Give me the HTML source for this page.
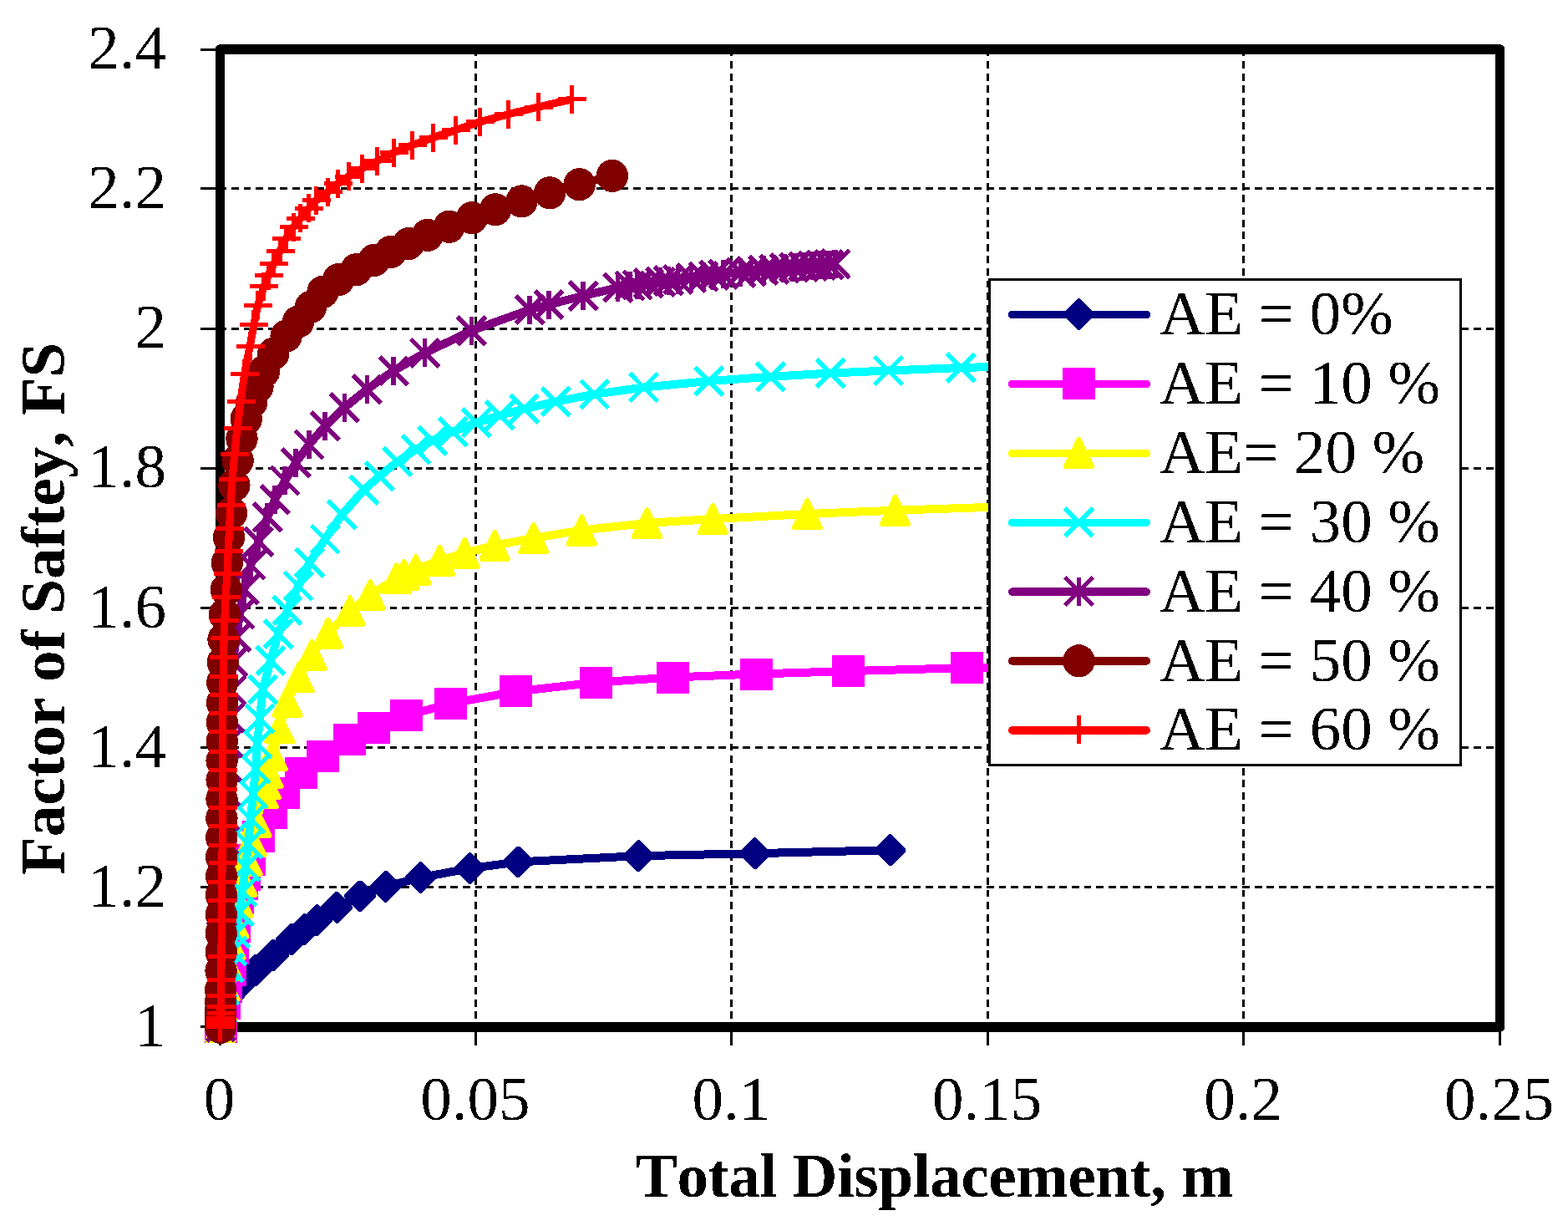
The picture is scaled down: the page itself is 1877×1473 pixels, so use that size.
<!DOCTYPE html>
<html lang="en"><head><meta charset="utf-8"><title>Factor of Safety vs Total Displacement</title>
<style>html,body{margin:0;padding:0;background:#fff}svg{display:block}text{font-family:"Liberation Serif",serif;font-size:75px;fill:#000;font-kerning:none;font-variant-ligatures:none}.b{font-weight:bold}</style></head><body>
<svg width="1877" height="1473" viewBox="0 0 1877 1473" role="img" aria-label="Factor of Safety versus Total Displacement chart">
<rect x="0" y="0" width="1877" height="1473" fill="#fff"/>
<defs><filter id="hard" filterUnits="userSpaceOnUse" x="0" y="0" width="1877" height="1473" color-interpolation-filters="sRGB"><feComponentTransfer><feFuncA type="discrete" tableValues="0 1"/></feComponentTransfer></filter></defs>
<g stroke="#000" stroke-width="3" stroke-dasharray="8.9 5.68" fill="none" shape-rendering="crispEdges">
<path d="M569.5 58.5V1229"/>
<path d="M875.5 58.5V1229"/>
<path d="M1182.5 58.5V1229"/>
<path d="M1488.5 58.5V1229"/>
<path d="M262.4 225.5H1795.5"/>
<path d="M262.4 393.5H1795.5"/>
<path d="M262.4 560.5H1795.5"/>
<path d="M262.4 727.5H1795.5"/>
<path d="M262.4 894.5H1795.5"/>
<path d="M262.4 1061.5H1795.5"/>
</g>
<g stroke="#000" stroke-width="3" fill="none" shape-rendering="crispEdges">
<path d="M240 59.5H259"/>
<path d="M240 225.5H259"/>
<path d="M240 393.5H259"/>
<path d="M240 560.5H259"/>
<path d="M240 727.5H259"/>
<path d="M240 894.5H259"/>
<path d="M240 1061.5H259"/>
<path d="M240 1228.5H259"/>
<path d="M263.5 1234V1251"/>
<path d="M569.5 1234V1251"/>
<path d="M875.5 1234V1251"/>
<path d="M1182.5 1234V1251"/>
<path d="M1488.5 1234V1251"/>
<path d="M1795.5 1234V1251"/>
</g>
<rect x="263.5" y="59" width="1532" height="1170" fill="none" stroke="#000" stroke-width="11.5" stroke-linejoin="round" shape-rendering="crispEdges"/>
<g shape-rendering="crispEdges" stroke-linecap="butt">
<path d="M264 1229L264 1216L266 1203L274 1192L283 1182L292.7 1172.5L306.5 1160.7L327.1 1143.2L349 1124L364.2 1112.2L379.3 1101.2L403.2 1085.7L431 1072.3L461.7 1061L503.6 1050.1L562.5 1039.1L620.2 1031.4L764.4 1024.2L903.7 1021.2L1065.6 1017.2" stroke="#000080" stroke-width="10" fill="none" stroke-linejoin="round"/>
<path d="M262.5 1210.2L265.5 1210.2L282.8 1227.5L282.8 1230.5L265.5 1247.8L262.5 1247.8L245.2 1230.5L245.2 1227.5Z" fill="#000080"/>
<path d="M262.5 1197.2L265.5 1197.2L282.8 1214.5L282.8 1217.5L265.5 1234.8L262.5 1234.8L245.2 1217.5L245.2 1214.5Z" fill="#000080"/>
<path d="M264.5 1184.2L267.5 1184.2L284.8 1201.5L284.8 1204.5L267.5 1221.8L264.5 1221.8L247.2 1204.5L247.2 1201.5Z" fill="#000080"/>
<path d="M272.5 1173.2L275.5 1173.2L292.8 1190.5L292.8 1193.5L275.5 1210.8L272.5 1210.8L255.2 1193.5L255.2 1190.5Z" fill="#000080"/>
<path d="M281.5 1163.2L284.5 1163.2L301.8 1180.5L301.8 1183.5L284.5 1200.8L281.5 1200.8L264.2 1183.5L264.2 1180.5Z" fill="#000080"/>
<path d="M291.2 1153.7L294.2 1153.7L311.5 1171L311.5 1174L294.2 1191.3L291.2 1191.3L273.9 1174L273.9 1171Z" fill="#000080"/>
<path d="M305 1141.9L308 1141.9L325.3 1159.2L325.3 1162.2L308 1179.5L305 1179.5L287.7 1162.2L287.7 1159.2Z" fill="#000080"/>
<path d="M325.6 1124.4L328.6 1124.4L345.9 1141.7L345.9 1144.7L328.6 1162L325.6 1162L308.3 1144.7L308.3 1141.7Z" fill="#000080"/>
<path d="M347.5 1105.2L350.5 1105.2L367.8 1122.5L367.8 1125.5L350.5 1142.8L347.5 1142.8L330.2 1125.5L330.2 1122.5Z" fill="#000080"/>
<path d="M362.7 1093.4L365.7 1093.4L383 1110.7L383 1113.7L365.7 1131L362.7 1131L345.4 1113.7L345.4 1110.7Z" fill="#000080"/>
<path d="M377.8 1082.4L380.8 1082.4L398.1 1099.7L398.1 1102.7L380.8 1120L377.8 1120L360.5 1102.7L360.5 1099.7Z" fill="#000080"/>
<path d="M401.7 1066.9L404.7 1066.9L422 1084.2L422 1087.2L404.7 1104.5L401.7 1104.5L384.4 1087.2L384.4 1084.2Z" fill="#000080"/>
<path d="M429.5 1053.5L432.5 1053.5L449.8 1070.8L449.8 1073.8L432.5 1091.1L429.5 1091.1L412.2 1073.8L412.2 1070.8Z" fill="#000080"/>
<path d="M460.2 1042.2L463.2 1042.2L480.5 1059.5L480.5 1062.5L463.2 1079.8L460.2 1079.8L442.9 1062.5L442.9 1059.5Z" fill="#000080"/>
<path d="M502.1 1031.3L505.1 1031.3L522.4 1048.6L522.4 1051.6L505.1 1068.9L502.1 1068.9L484.8 1051.6L484.8 1048.6Z" fill="#000080"/>
<path d="M561 1020.3L564 1020.3L581.3 1037.6L581.3 1040.6L564 1057.9L561 1057.9L543.7 1040.6L543.7 1037.6Z" fill="#000080"/>
<path d="M618.7 1012.6L621.7 1012.6L639 1029.9L639 1032.9L621.7 1050.2L618.7 1050.2L601.4 1032.9L601.4 1029.9Z" fill="#000080"/>
<path d="M762.9 1005.4L765.9 1005.4L783.2 1022.7L783.2 1025.7L765.9 1043L762.9 1043L745.6 1025.7L745.6 1022.7Z" fill="#000080"/>
<path d="M902.2 1002.4L905.2 1002.4L922.5 1019.7L922.5 1022.7L905.2 1040L902.2 1040L884.9 1022.7L884.9 1019.7Z" fill="#000080"/>
<path d="M1064.1 998.4L1067.1 998.4L1084.4 1015.7L1084.4 1018.7L1067.1 1036L1064.1 1036L1046.8 1018.7L1046.8 1015.7Z" fill="#000080"/>
<path d="M264 1229L268 1200.6L270.9 1180.7L275.2 1160.7L278 1135L280.9 1108.7L284.9 1075.2L289.2 1058.1L292.3 1046.7L298 1029.2L309 1000.8L324.3 972.7L339.1 949L360.2 924.5L386 904.6L418.7 885.3L447.1 871.1L486.3 856.4L539.6 841.8L617.9 827.4L713.2 816.6L805.5 810.5L905.4 806.5L1015.4 803.1L1157.6 799.1L1300 796" stroke="#FF00FF" stroke-width="10" fill="none" stroke-linejoin="round"/>
<rect x="244.5" y="1210" width="39" height="38" fill="#FF00FF"/>
<rect x="248.5" y="1181.6" width="39" height="38" fill="#FF00FF"/>
<rect x="251.4" y="1161.7" width="39" height="38" fill="#FF00FF"/>
<rect x="255.7" y="1141.7" width="39" height="38" fill="#FF00FF"/>
<rect x="258.5" y="1116" width="39" height="38" fill="#FF00FF"/>
<rect x="261.4" y="1089.7" width="39" height="38" fill="#FF00FF"/>
<rect x="265.4" y="1056.2" width="39" height="38" fill="#FF00FF"/>
<rect x="269.7" y="1039.1" width="39" height="38" fill="#FF00FF"/>
<rect x="272.8" y="1027.7" width="39" height="38" fill="#FF00FF"/>
<rect x="278.5" y="1010.2" width="39" height="38" fill="#FF00FF"/>
<rect x="289.5" y="981.8" width="39" height="38" fill="#FF00FF"/>
<rect x="304.8" y="953.7" width="39" height="38" fill="#FF00FF"/>
<rect x="319.6" y="930" width="39" height="38" fill="#FF00FF"/>
<rect x="340.7" y="905.5" width="39" height="38" fill="#FF00FF"/>
<rect x="366.5" y="885.6" width="39" height="38" fill="#FF00FF"/>
<rect x="399.2" y="866.3" width="39" height="38" fill="#FF00FF"/>
<rect x="427.6" y="852.1" width="39" height="38" fill="#FF00FF"/>
<rect x="466.8" y="837.4" width="39" height="38" fill="#FF00FF"/>
<rect x="520.1" y="822.8" width="39" height="38" fill="#FF00FF"/>
<rect x="598.4" y="808.4" width="39" height="38" fill="#FF00FF"/>
<rect x="693.7" y="797.6" width="39" height="38" fill="#FF00FF"/>
<rect x="786" y="791.5" width="39" height="38" fill="#FF00FF"/>
<rect x="885.9" y="787.5" width="39" height="38" fill="#FF00FF"/>
<rect x="995.9" y="784.1" width="39" height="38" fill="#FF00FF"/>
<rect x="1138.1" y="780.1" width="39" height="38" fill="#FF00FF"/>
<path d="M264 1229L266 1205L269 1180L272 1155L276 1130L280 1105L285 1080L290 1055L296 1030L301 1007L307 984L315.2 949L318.4 938.3L321.2 924.8L326.2 904.1L334.8 871.3L343.9 839.7L358 810.4L373.2 783.8L392.6 757.7L419 731L443.3 711.9L474.4 692.4L483.7 687.9L497.9 681.8L526.4 670.6L556.2 661.8L592.2 652.7L638.8 643.9L696.3 634.5L774.6 625.9L853.2 621.1L966.4 615L1071.6 610.7L1300 603" stroke="#FFFF00" stroke-width="10" fill="none" stroke-linejoin="round"/>
<path d="M264 1212.8L279.8 1245.2L248.2 1245.2Z" fill="#FFFF00" stroke="#FFFF00" stroke-width="5.6" stroke-linejoin="round"/>
<path d="M266 1188.8L281.8 1221.2L250.2 1221.2Z" fill="#FFFF00" stroke="#FFFF00" stroke-width="5.6" stroke-linejoin="round"/>
<path d="M269 1163.8L284.8 1196.2L253.2 1196.2Z" fill="#FFFF00" stroke="#FFFF00" stroke-width="5.6" stroke-linejoin="round"/>
<path d="M272 1138.8L287.8 1171.2L256.2 1171.2Z" fill="#FFFF00" stroke="#FFFF00" stroke-width="5.6" stroke-linejoin="round"/>
<path d="M276 1113.8L291.8 1146.2L260.2 1146.2Z" fill="#FFFF00" stroke="#FFFF00" stroke-width="5.6" stroke-linejoin="round"/>
<path d="M280 1088.8L295.8 1121.2L264.2 1121.2Z" fill="#FFFF00" stroke="#FFFF00" stroke-width="5.6" stroke-linejoin="round"/>
<path d="M285 1063.8L300.8 1096.2L269.2 1096.2Z" fill="#FFFF00" stroke="#FFFF00" stroke-width="5.6" stroke-linejoin="round"/>
<path d="M290 1038.8L305.8 1071.2L274.2 1071.2Z" fill="#FFFF00" stroke="#FFFF00" stroke-width="5.6" stroke-linejoin="round"/>
<path d="M296 1013.8L311.8 1046.2L280.2 1046.2Z" fill="#FFFF00" stroke="#FFFF00" stroke-width="5.6" stroke-linejoin="round"/>
<path d="M301 990.8L316.8 1023.2L285.2 1023.2Z" fill="#FFFF00" stroke="#FFFF00" stroke-width="5.6" stroke-linejoin="round"/>
<path d="M307 967.8L322.8 1000.2L291.2 1000.2Z" fill="#FFFF00" stroke="#FFFF00" stroke-width="5.6" stroke-linejoin="round"/>
<path d="M315.2 932.8L331 965.2L299.4 965.2Z" fill="#FFFF00" stroke="#FFFF00" stroke-width="5.6" stroke-linejoin="round"/>
<path d="M318.4 922.1L334.2 954.5L302.6 954.5Z" fill="#FFFF00" stroke="#FFFF00" stroke-width="5.6" stroke-linejoin="round"/>
<path d="M321.2 908.6L337 941L305.4 941Z" fill="#FFFF00" stroke="#FFFF00" stroke-width="5.6" stroke-linejoin="round"/>
<path d="M326.2 887.9L342 920.3L310.4 920.3Z" fill="#FFFF00" stroke="#FFFF00" stroke-width="5.6" stroke-linejoin="round"/>
<path d="M334.8 855.1L350.6 887.5L319 887.5Z" fill="#FFFF00" stroke="#FFFF00" stroke-width="5.6" stroke-linejoin="round"/>
<path d="M343.9 823.5L359.7 855.9L328.1 855.9Z" fill="#FFFF00" stroke="#FFFF00" stroke-width="5.6" stroke-linejoin="round"/>
<path d="M358 794.2L373.8 826.6L342.2 826.6Z" fill="#FFFF00" stroke="#FFFF00" stroke-width="5.6" stroke-linejoin="round"/>
<path d="M373.2 767.6L389 800L357.4 800Z" fill="#FFFF00" stroke="#FFFF00" stroke-width="5.6" stroke-linejoin="round"/>
<path d="M392.6 741.5L408.4 773.9L376.8 773.9Z" fill="#FFFF00" stroke="#FFFF00" stroke-width="5.6" stroke-linejoin="round"/>
<path d="M419 714.8L434.8 747.2L403.2 747.2Z" fill="#FFFF00" stroke="#FFFF00" stroke-width="5.6" stroke-linejoin="round"/>
<path d="M443.3 695.7L459.1 728.1L427.5 728.1Z" fill="#FFFF00" stroke="#FFFF00" stroke-width="5.6" stroke-linejoin="round"/>
<path d="M474.4 676.2L490.2 708.6L458.6 708.6Z" fill="#FFFF00" stroke="#FFFF00" stroke-width="5.6" stroke-linejoin="round"/>
<path d="M483.7 671.7L499.5 704.1L467.9 704.1Z" fill="#FFFF00" stroke="#FFFF00" stroke-width="5.6" stroke-linejoin="round"/>
<path d="M497.9 665.6L513.7 698L482.1 698Z" fill="#FFFF00" stroke="#FFFF00" stroke-width="5.6" stroke-linejoin="round"/>
<path d="M526.4 654.4L542.2 686.8L510.6 686.8Z" fill="#FFFF00" stroke="#FFFF00" stroke-width="5.6" stroke-linejoin="round"/>
<path d="M556.2 645.6L572 678L540.4 678Z" fill="#FFFF00" stroke="#FFFF00" stroke-width="5.6" stroke-linejoin="round"/>
<path d="M592.2 636.5L608 668.9L576.4 668.9Z" fill="#FFFF00" stroke="#FFFF00" stroke-width="5.6" stroke-linejoin="round"/>
<path d="M638.8 627.7L654.6 660.1L623 660.1Z" fill="#FFFF00" stroke="#FFFF00" stroke-width="5.6" stroke-linejoin="round"/>
<path d="M696.3 618.3L712.1 650.7L680.5 650.7Z" fill="#FFFF00" stroke="#FFFF00" stroke-width="5.6" stroke-linejoin="round"/>
<path d="M774.6 609.7L790.4 642.1L758.8 642.1Z" fill="#FFFF00" stroke="#FFFF00" stroke-width="5.6" stroke-linejoin="round"/>
<path d="M853.2 604.9L869 637.3L837.4 637.3Z" fill="#FFFF00" stroke="#FFFF00" stroke-width="5.6" stroke-linejoin="round"/>
<path d="M966.4 598.8L982.2 631.2L950.6 631.2Z" fill="#FFFF00" stroke="#FFFF00" stroke-width="5.6" stroke-linejoin="round"/>
<path d="M1071.6 594.5L1087.4 626.9L1055.8 626.9Z" fill="#FFFF00" stroke="#FFFF00" stroke-width="5.6" stroke-linejoin="round"/>
<path d="M264 1229L266 1207L269 1185L274.3 1158L278 1138L282 1117L286.4 1091L290 1067L294 1037L297 1010L300 980L303 950L306 920L308 890L311 860L314.6 825.1L323.9 790.4L333.2 758.5L343.9 730.5L357.2 701.2L370.5 673.2L389.2 645.3L409.2 616L435.8 586L454.4 569.7L475.7 552.4L497.9 537.8L517.8 527.1L542.3 516.5L570.3 505.8L598.3 497L627.6 489.3L665.4 480.5L711.7 471.8L770.6 463.5L848.8 456L922.4 450.8L994.4 446.5L1063.6 443.5L1150.2 440L1300 436" stroke="#00FFFF" stroke-width="10" fill="none" stroke-linejoin="round"/>
<path d="M247.3 1212.3L280.7 1245.7M247.3 1245.7L280.7 1212.3" stroke="#00FFFF" stroke-width="5.5" fill="none"/>
<path d="M249.3 1190.3L282.7 1223.7M249.3 1223.7L282.7 1190.3" stroke="#00FFFF" stroke-width="5.5" fill="none"/>
<path d="M252.3 1168.3L285.7 1201.7M252.3 1201.7L285.7 1168.3" stroke="#00FFFF" stroke-width="5.5" fill="none"/>
<path d="M257.6 1141.3L291 1174.7M257.6 1174.7L291 1141.3" stroke="#00FFFF" stroke-width="5.5" fill="none"/>
<path d="M261.3 1121.3L294.7 1154.7M261.3 1154.7L294.7 1121.3" stroke="#00FFFF" stroke-width="5.5" fill="none"/>
<path d="M265.3 1100.3L298.7 1133.7M265.3 1133.7L298.7 1100.3" stroke="#00FFFF" stroke-width="5.5" fill="none"/>
<path d="M269.7 1074.3L303.1 1107.7M269.7 1107.7L303.1 1074.3" stroke="#00FFFF" stroke-width="5.5" fill="none"/>
<path d="M273.3 1050.3L306.7 1083.7M273.3 1083.7L306.7 1050.3" stroke="#00FFFF" stroke-width="5.5" fill="none"/>
<path d="M277.3 1020.3L310.7 1053.7M277.3 1053.7L310.7 1020.3" stroke="#00FFFF" stroke-width="5.5" fill="none"/>
<path d="M280.3 993.3L313.7 1026.7M280.3 1026.7L313.7 993.3" stroke="#00FFFF" stroke-width="5.5" fill="none"/>
<path d="M283.3 963.3L316.7 996.7M283.3 996.7L316.7 963.3" stroke="#00FFFF" stroke-width="5.5" fill="none"/>
<path d="M286.3 933.3L319.7 966.7M286.3 966.7L319.7 933.3" stroke="#00FFFF" stroke-width="5.5" fill="none"/>
<path d="M289.3 903.3L322.7 936.7M289.3 936.7L322.7 903.3" stroke="#00FFFF" stroke-width="5.5" fill="none"/>
<path d="M291.3 873.3L324.7 906.7M291.3 906.7L324.7 873.3" stroke="#00FFFF" stroke-width="5.5" fill="none"/>
<path d="M294.3 843.3L327.7 876.7M294.3 876.7L327.7 843.3" stroke="#00FFFF" stroke-width="5.5" fill="none"/>
<path d="M297.9 808.4L331.3 841.8M297.9 841.8L331.3 808.4" stroke="#00FFFF" stroke-width="5.5" fill="none"/>
<path d="M307.2 773.7L340.6 807.1M307.2 807.1L340.6 773.7" stroke="#00FFFF" stroke-width="5.5" fill="none"/>
<path d="M316.5 741.8L349.9 775.2M316.5 775.2L349.9 741.8" stroke="#00FFFF" stroke-width="5.5" fill="none"/>
<path d="M327.2 713.8L360.6 747.2M327.2 747.2L360.6 713.8" stroke="#00FFFF" stroke-width="5.5" fill="none"/>
<path d="M340.5 684.5L373.9 717.9M340.5 717.9L373.9 684.5" stroke="#00FFFF" stroke-width="5.5" fill="none"/>
<path d="M353.8 656.5L387.2 689.9M353.8 689.9L387.2 656.5" stroke="#00FFFF" stroke-width="5.5" fill="none"/>
<path d="M372.5 628.6L405.9 662M372.5 662L405.9 628.6" stroke="#00FFFF" stroke-width="5.5" fill="none"/>
<path d="M392.5 599.3L425.9 632.7M392.5 632.7L425.9 599.3" stroke="#00FFFF" stroke-width="5.5" fill="none"/>
<path d="M419.1 569.3L452.5 602.7M419.1 602.7L452.5 569.3" stroke="#00FFFF" stroke-width="5.5" fill="none"/>
<path d="M437.7 553L471.1 586.4M437.7 586.4L471.1 553" stroke="#00FFFF" stroke-width="5.5" fill="none"/>
<path d="M459 535.7L492.4 569.1M459 569.1L492.4 535.7" stroke="#00FFFF" stroke-width="5.5" fill="none"/>
<path d="M481.2 521.1L514.6 554.5M481.2 554.5L514.6 521.1" stroke="#00FFFF" stroke-width="5.5" fill="none"/>
<path d="M501.1 510.4L534.5 543.8M501.1 543.8L534.5 510.4" stroke="#00FFFF" stroke-width="5.5" fill="none"/>
<path d="M525.6 499.8L559 533.2M525.6 533.2L559 499.8" stroke="#00FFFF" stroke-width="5.5" fill="none"/>
<path d="M553.6 489.1L587 522.5M553.6 522.5L587 489.1" stroke="#00FFFF" stroke-width="5.5" fill="none"/>
<path d="M581.6 480.3L615 513.7M581.6 513.7L615 480.3" stroke="#00FFFF" stroke-width="5.5" fill="none"/>
<path d="M610.9 472.6L644.3 506M610.9 506L644.3 472.6" stroke="#00FFFF" stroke-width="5.5" fill="none"/>
<path d="M648.7 463.8L682.1 497.2M648.7 497.2L682.1 463.8" stroke="#00FFFF" stroke-width="5.5" fill="none"/>
<path d="M695 455.1L728.4 488.5M695 488.5L728.4 455.1" stroke="#00FFFF" stroke-width="5.5" fill="none"/>
<path d="M753.9 446.8L787.3 480.2M753.9 480.2L787.3 446.8" stroke="#00FFFF" stroke-width="5.5" fill="none"/>
<path d="M832.1 439.3L865.5 472.7M832.1 472.7L865.5 439.3" stroke="#00FFFF" stroke-width="5.5" fill="none"/>
<path d="M905.7 434.1L939.1 467.5M905.7 467.5L939.1 434.1" stroke="#00FFFF" stroke-width="5.5" fill="none"/>
<path d="M977.7 429.8L1011.1 463.2M977.7 463.2L1011.1 429.8" stroke="#00FFFF" stroke-width="5.5" fill="none"/>
<path d="M1046.9 426.8L1080.3 460.2M1046.9 460.2L1080.3 426.8" stroke="#00FFFF" stroke-width="5.5" fill="none"/>
<path d="M1133.5 423.3L1166.9 456.7M1133.5 456.7L1166.9 423.3" stroke="#00FFFF" stroke-width="5.5" fill="none"/>
<path d="M264.3 1229L264.5 1207L264.8 1178L265.1 1149L265.4 1120L265.7 1091L266 1063L267 1034L268 1005L269 976L270 947L271.5 918L273 889L275 859L277 826L278.9 792L282.9 762.7L286.9 734.8L292.2 705.5L300.2 676.2L309.5 648.2L320.2 618.9L329.2 597.7L341.2 575.1L354 553.8L370 531.9L389.2 509.8L412.4 487.7L439.3 465.9L471.2 443.7L508.5 422.4L564.5 395.8L634.2 370.5L656.9 364.6L698.2 354L739.6 344.1L754 342.1L762.8 340.9L776.3 339.1L790.7 337.2L800.3 336L811.5 334.6L827.5 332.6L841.9 330.9L854.7 329.5L865.9 328.3L886.6 326.1L899.4 324.7L913.8 323.3L926.6 322.1L939.4 321L950.5 320L961.7 319L972.9 318.1L982.5 317.3L992.1 316.6L1000.1 316" stroke="#800080" stroke-width="10" fill="none" stroke-linejoin="round"/>
<path d="M247.6 1212.3L281 1245.7M247.6 1245.7L281 1212.3M264.3 1212L264.3 1246" stroke="#800080" stroke-width="5.5" fill="none"/>
<path d="M247.8 1190.3L281.2 1223.7M247.8 1223.7L281.2 1190.3M264.5 1190L264.5 1224" stroke="#800080" stroke-width="5.5" fill="none"/>
<path d="M248.1 1161.3L281.5 1194.7M248.1 1194.7L281.5 1161.3M264.8 1161L264.8 1195" stroke="#800080" stroke-width="5.5" fill="none"/>
<path d="M248.4 1132.3L281.8 1165.7M248.4 1165.7L281.8 1132.3M265.1 1132L265.1 1166" stroke="#800080" stroke-width="5.5" fill="none"/>
<path d="M248.7 1103.3L282.1 1136.7M248.7 1136.7L282.1 1103.3M265.4 1103L265.4 1137" stroke="#800080" stroke-width="5.5" fill="none"/>
<path d="M249 1074.3L282.4 1107.7M249 1107.7L282.4 1074.3M265.7 1074L265.7 1108" stroke="#800080" stroke-width="5.5" fill="none"/>
<path d="M249.3 1046.3L282.7 1079.7M249.3 1079.7L282.7 1046.3M266 1046L266 1080" stroke="#800080" stroke-width="5.5" fill="none"/>
<path d="M250.3 1017.3L283.7 1050.7M250.3 1050.7L283.7 1017.3M267 1017L267 1051" stroke="#800080" stroke-width="5.5" fill="none"/>
<path d="M251.3 988.3L284.7 1021.7M251.3 1021.7L284.7 988.3M268 988L268 1022" stroke="#800080" stroke-width="5.5" fill="none"/>
<path d="M252.3 959.3L285.7 992.7M252.3 992.7L285.7 959.3M269 959L269 993" stroke="#800080" stroke-width="5.5" fill="none"/>
<path d="M253.3 930.3L286.7 963.7M253.3 963.7L286.7 930.3M270 930L270 964" stroke="#800080" stroke-width="5.5" fill="none"/>
<path d="M254.8 901.3L288.2 934.7M254.8 934.7L288.2 901.3M271.5 901L271.5 935" stroke="#800080" stroke-width="5.5" fill="none"/>
<path d="M256.3 872.3L289.7 905.7M256.3 905.7L289.7 872.3M273 872L273 906" stroke="#800080" stroke-width="5.5" fill="none"/>
<path d="M258.3 842.3L291.7 875.7M258.3 875.7L291.7 842.3M275 842L275 876" stroke="#800080" stroke-width="5.5" fill="none"/>
<path d="M260.3 809.3L293.7 842.7M260.3 842.7L293.7 809.3M277 809L277 843" stroke="#800080" stroke-width="5.5" fill="none"/>
<path d="M262.2 775.3L295.6 808.7M262.2 808.7L295.6 775.3M278.9 775L278.9 809" stroke="#800080" stroke-width="5.5" fill="none"/>
<path d="M266.2 746L299.6 779.4M266.2 779.4L299.6 746M282.9 745.7L282.9 779.7" stroke="#800080" stroke-width="5.5" fill="none"/>
<path d="M270.2 718.1L303.6 751.5M270.2 751.5L303.6 718.1M286.9 717.8L286.9 751.8" stroke="#800080" stroke-width="5.5" fill="none"/>
<path d="M275.5 688.8L308.9 722.2M275.5 722.2L308.9 688.8M292.2 688.5L292.2 722.5" stroke="#800080" stroke-width="5.5" fill="none"/>
<path d="M283.5 659.5L316.9 692.9M283.5 692.9L316.9 659.5M300.2 659.2L300.2 693.2" stroke="#800080" stroke-width="5.5" fill="none"/>
<path d="M292.8 631.5L326.2 664.9M292.8 664.9L326.2 631.5M309.5 631.2L309.5 665.2" stroke="#800080" stroke-width="5.5" fill="none"/>
<path d="M303.5 602.2L336.9 635.6M303.5 635.6L336.9 602.2M320.2 601.9L320.2 635.9" stroke="#800080" stroke-width="5.5" fill="none"/>
<path d="M312.5 581L345.9 614.4M312.5 614.4L345.9 581M329.2 580.7L329.2 614.7" stroke="#800080" stroke-width="5.5" fill="none"/>
<path d="M324.5 558.4L357.9 591.8M324.5 591.8L357.9 558.4M341.2 558.1L341.2 592.1" stroke="#800080" stroke-width="5.5" fill="none"/>
<path d="M337.3 537.1L370.7 570.5M337.3 570.5L370.7 537.1M354 536.8L354 570.8" stroke="#800080" stroke-width="5.5" fill="none"/>
<path d="M353.3 515.2L386.7 548.6M353.3 548.6L386.7 515.2M370 514.9L370 548.9" stroke="#800080" stroke-width="5.5" fill="none"/>
<path d="M372.5 493.1L405.9 526.5M372.5 526.5L405.9 493.1M389.2 492.8L389.2 526.8" stroke="#800080" stroke-width="5.5" fill="none"/>
<path d="M395.7 471L429.1 504.4M395.7 504.4L429.1 471M412.4 470.7L412.4 504.7" stroke="#800080" stroke-width="5.5" fill="none"/>
<path d="M422.6 449.2L456 482.6M422.6 482.6L456 449.2M439.3 448.9L439.3 482.9" stroke="#800080" stroke-width="5.5" fill="none"/>
<path d="M454.5 427L487.9 460.4M454.5 460.4L487.9 427M471.2 426.7L471.2 460.7" stroke="#800080" stroke-width="5.5" fill="none"/>
<path d="M491.8 405.7L525.2 439.1M491.8 439.1L525.2 405.7M508.5 405.4L508.5 439.4" stroke="#800080" stroke-width="5.5" fill="none"/>
<path d="M547.8 379.1L581.2 412.5M547.8 412.5L581.2 379.1M564.5 378.8L564.5 412.8" stroke="#800080" stroke-width="5.5" fill="none"/>
<path d="M617.5 353.8L650.9 387.2M617.5 387.2L650.9 353.8M634.2 353.5L634.2 387.5" stroke="#800080" stroke-width="5.5" fill="none"/>
<path d="M640.2 347.9L673.6 381.3M640.2 381.3L673.6 347.9M656.9 347.6L656.9 381.6" stroke="#800080" stroke-width="5.5" fill="none"/>
<path d="M681.5 337.3L714.9 370.7M681.5 370.7L714.9 337.3M698.2 337L698.2 371" stroke="#800080" stroke-width="5.5" fill="none"/>
<path d="M722.9 327.4L756.3 360.8M722.9 360.8L756.3 327.4M739.6 327.1L739.6 361.1" stroke="#800080" stroke-width="5.5" fill="none"/>
<path d="M737.3 325.4L770.7 358.8M737.3 358.8L770.7 325.4M754 325.1L754 359.1" stroke="#800080" stroke-width="5.5" fill="none"/>
<path d="M746.1 324.2L779.5 357.6M746.1 357.6L779.5 324.2M762.8 323.9L762.8 357.9" stroke="#800080" stroke-width="5.5" fill="none"/>
<path d="M759.6 322.4L793 355.8M759.6 355.8L793 322.4M776.3 322.1L776.3 356.1" stroke="#800080" stroke-width="5.5" fill="none"/>
<path d="M774 320.5L807.4 353.9M774 353.9L807.4 320.5M790.7 320.2L790.7 354.2" stroke="#800080" stroke-width="5.5" fill="none"/>
<path d="M783.6 319.3L817 352.7M783.6 352.7L817 319.3M800.3 319L800.3 353" stroke="#800080" stroke-width="5.5" fill="none"/>
<path d="M794.8 317.9L828.2 351.3M794.8 351.3L828.2 317.9M811.5 317.6L811.5 351.6" stroke="#800080" stroke-width="5.5" fill="none"/>
<path d="M810.8 315.9L844.2 349.3M810.8 349.3L844.2 315.9M827.5 315.6L827.5 349.6" stroke="#800080" stroke-width="5.5" fill="none"/>
<path d="M825.2 314.2L858.6 347.6M825.2 347.6L858.6 314.2M841.9 313.9L841.9 347.9" stroke="#800080" stroke-width="5.5" fill="none"/>
<path d="M838 312.8L871.4 346.2M838 346.2L871.4 312.8M854.7 312.5L854.7 346.5" stroke="#800080" stroke-width="5.5" fill="none"/>
<path d="M849.2 311.6L882.6 345M849.2 345L882.6 311.6M865.9 311.3L865.9 345.3" stroke="#800080" stroke-width="5.5" fill="none"/>
<path d="M869.9 309.4L903.3 342.8M869.9 342.8L903.3 309.4M886.6 309.1L886.6 343.1" stroke="#800080" stroke-width="5.5" fill="none"/>
<path d="M882.7 308L916.1 341.4M882.7 341.4L916.1 308M899.4 307.7L899.4 341.7" stroke="#800080" stroke-width="5.5" fill="none"/>
<path d="M897.1 306.6L930.5 340M897.1 340L930.5 306.6M913.8 306.3L913.8 340.3" stroke="#800080" stroke-width="5.5" fill="none"/>
<path d="M909.9 305.4L943.3 338.8M909.9 338.8L943.3 305.4M926.6 305.1L926.6 339.1" stroke="#800080" stroke-width="5.5" fill="none"/>
<path d="M922.7 304.3L956.1 337.7M922.7 337.7L956.1 304.3M939.4 304L939.4 338" stroke="#800080" stroke-width="5.5" fill="none"/>
<path d="M933.8 303.3L967.2 336.7M933.8 336.7L967.2 303.3M950.5 303L950.5 337" stroke="#800080" stroke-width="5.5" fill="none"/>
<path d="M945 302.3L978.4 335.7M945 335.7L978.4 302.3M961.7 302L961.7 336" stroke="#800080" stroke-width="5.5" fill="none"/>
<path d="M956.2 301.4L989.6 334.8M956.2 334.8L989.6 301.4M972.9 301.1L972.9 335.1" stroke="#800080" stroke-width="5.5" fill="none"/>
<path d="M965.8 300.6L999.2 334M965.8 334L999.2 300.6M982.5 300.3L982.5 334.3" stroke="#800080" stroke-width="5.5" fill="none"/>
<path d="M975.4 299.9L1008.8 333.3M975.4 333.3L1008.8 299.9M992.1 299.6L992.1 333.6" stroke="#800080" stroke-width="5.5" fill="none"/>
<path d="M983.4 299.3L1016.8 332.7M983.4 332.7L1016.8 299.3M1000.1 299L1000.1 333" stroke="#800080" stroke-width="5.5" fill="none"/>
<path d="M264 1229L264 1224L264 1217L264 1209L264.1 1198L264.2 1184L264.6 1161.5L264.7 1139L264.8 1116.5L264.9 1094L265 1071L265.1 1048L265.2 1025L265.3 1002L265.4 979L265.5 956L265.6 933L265.6 910L265.7 887L265.8 864L266 841L266.2 816.6L266.8 792.2L267.5 765L268.9 735.2L270.9 705.3L271.8 673.3L274 642.4L277 613.6L280.4 580.2L284.6 551L289.5 524.5L294.7 501L301.1 481.1L308.5 462.4L315.9 444.5L327.2 423L342.6 401.9L357.2 384.6L372 367L386.5 349L405.2 334.4L426.5 322.4L447.8 311.2L467.8 301.1L489.1 291.2L511.7 281.1L537.6 271L565 260.3L593 250.5L624.4 240.6L658.2 230.5L693.6 220.4L732.8 210.1" stroke="#800000" stroke-width="10" fill="none" stroke-linejoin="round"/>
<ellipse cx="264" cy="1229.3" rx="19.2" ry="19.6" fill="#800000"/>
<ellipse cx="264" cy="1224.3" rx="19.2" ry="19.6" fill="#800000"/>
<ellipse cx="264" cy="1217.3" rx="19.2" ry="19.6" fill="#800000"/>
<ellipse cx="264" cy="1209.3" rx="19.2" ry="19.6" fill="#800000"/>
<ellipse cx="264.1" cy="1198.3" rx="19.2" ry="19.6" fill="#800000"/>
<ellipse cx="264.2" cy="1184.3" rx="19.2" ry="19.6" fill="#800000"/>
<ellipse cx="264.6" cy="1161.8" rx="19.2" ry="19.6" fill="#800000"/>
<ellipse cx="264.7" cy="1139.3" rx="19.2" ry="19.6" fill="#800000"/>
<ellipse cx="264.8" cy="1116.8" rx="19.2" ry="19.6" fill="#800000"/>
<ellipse cx="264.9" cy="1094.3" rx="19.2" ry="19.6" fill="#800000"/>
<ellipse cx="265" cy="1071.3" rx="19.2" ry="19.6" fill="#800000"/>
<ellipse cx="265.1" cy="1048.3" rx="19.2" ry="19.6" fill="#800000"/>
<ellipse cx="265.2" cy="1025.3" rx="19.2" ry="19.6" fill="#800000"/>
<ellipse cx="265.3" cy="1002.3" rx="19.2" ry="19.6" fill="#800000"/>
<ellipse cx="265.4" cy="979.3" rx="19.2" ry="19.6" fill="#800000"/>
<ellipse cx="265.5" cy="956.3" rx="19.2" ry="19.6" fill="#800000"/>
<ellipse cx="265.6" cy="933.3" rx="19.2" ry="19.6" fill="#800000"/>
<ellipse cx="265.6" cy="910.3" rx="19.2" ry="19.6" fill="#800000"/>
<ellipse cx="265.7" cy="887.3" rx="19.2" ry="19.6" fill="#800000"/>
<ellipse cx="265.8" cy="864.3" rx="19.2" ry="19.6" fill="#800000"/>
<ellipse cx="266" cy="841.3" rx="19.2" ry="19.6" fill="#800000"/>
<ellipse cx="266.2" cy="816.9" rx="19.2" ry="19.6" fill="#800000"/>
<ellipse cx="266.8" cy="792.5" rx="19.2" ry="19.6" fill="#800000"/>
<ellipse cx="267.5" cy="765.3" rx="19.2" ry="19.6" fill="#800000"/>
<ellipse cx="268.9" cy="735.5" rx="19.2" ry="19.6" fill="#800000"/>
<ellipse cx="270.9" cy="705.6" rx="19.2" ry="19.6" fill="#800000"/>
<ellipse cx="271.8" cy="673.6" rx="19.2" ry="19.6" fill="#800000"/>
<ellipse cx="274" cy="642.7" rx="19.2" ry="19.6" fill="#800000"/>
<ellipse cx="277" cy="613.9" rx="19.2" ry="19.6" fill="#800000"/>
<ellipse cx="280.4" cy="580.5" rx="19.2" ry="19.6" fill="#800000"/>
<ellipse cx="284.6" cy="551.3" rx="19.2" ry="19.6" fill="#800000"/>
<ellipse cx="289.5" cy="524.8" rx="19.2" ry="19.6" fill="#800000"/>
<ellipse cx="294.7" cy="501.3" rx="19.2" ry="19.6" fill="#800000"/>
<ellipse cx="301.1" cy="481.4" rx="19.2" ry="19.6" fill="#800000"/>
<ellipse cx="308.5" cy="462.7" rx="19.2" ry="19.6" fill="#800000"/>
<ellipse cx="315.9" cy="444.8" rx="19.2" ry="19.6" fill="#800000"/>
<ellipse cx="327.2" cy="423.3" rx="19.2" ry="19.6" fill="#800000"/>
<ellipse cx="342.6" cy="402.2" rx="19.2" ry="19.6" fill="#800000"/>
<ellipse cx="357.2" cy="384.9" rx="19.2" ry="19.6" fill="#800000"/>
<ellipse cx="372" cy="367.3" rx="19.2" ry="19.6" fill="#800000"/>
<ellipse cx="386.5" cy="349.3" rx="19.2" ry="19.6" fill="#800000"/>
<ellipse cx="405.2" cy="334.7" rx="19.2" ry="19.6" fill="#800000"/>
<ellipse cx="426.5" cy="322.7" rx="19.2" ry="19.6" fill="#800000"/>
<ellipse cx="447.8" cy="311.5" rx="19.2" ry="19.6" fill="#800000"/>
<ellipse cx="467.8" cy="301.4" rx="19.2" ry="19.6" fill="#800000"/>
<ellipse cx="489.1" cy="291.5" rx="19.2" ry="19.6" fill="#800000"/>
<ellipse cx="511.7" cy="281.4" rx="19.2" ry="19.6" fill="#800000"/>
<ellipse cx="537.6" cy="271.3" rx="19.2" ry="19.6" fill="#800000"/>
<ellipse cx="565" cy="260.6" rx="19.2" ry="19.6" fill="#800000"/>
<ellipse cx="593" cy="250.8" rx="19.2" ry="19.6" fill="#800000"/>
<ellipse cx="624.4" cy="240.9" rx="19.2" ry="19.6" fill="#800000"/>
<ellipse cx="658.2" cy="230.8" rx="19.2" ry="19.6" fill="#800000"/>
<ellipse cx="693.6" cy="220.7" rx="19.2" ry="19.6" fill="#800000"/>
<ellipse cx="732.8" cy="210.4" rx="19.2" ry="19.6" fill="#800000"/>
<path d="M263.6 1228.6L263.7 1225.3L263.8 1222L263.9 1218.5L264 1212.3L264.2 1204.6L264.4 1191.6L264.8 1172.5L265 1144L265.4 1101.3L265.6 1077.7L265.8 1055.7L266 1032L266.2 1011L266.3 988.2L266.4 966.1L266.5 944L266.6 921.2L266.7 899.1L266.8 875.6L266.9 853.5L267 831.7L267.2 809.1L267.6 786.4L268 763.8L268.8 742L270.1 714.5L272 686.6L273.3 659.1L274.6 632L276 604L278.1 573.7L280.8 543.1L284 512.5L288 480.5L292.7 447.2L299.1 414.7L303.9 388.1L308.7 365.2L315.9 342.8L321.2 329.6L327.9 315.2L335.1 300.3L342 285.9L351.3 271.8L359.9 261.1L369.2 249.4L378.5 239.8L392.4 229.7L404.4 219.9L417.4 211.1L433.4 201.7L451.2 192.9L471.2 182.8L493.1 173.8L518.4 164.7L545.3 155.7L574.8 145.8L608.4 136.7L644.4 128L684.3 118.9" stroke="#FF0000" stroke-width="9.25" fill="none" stroke-linejoin="round"/>
<path d="M247.1 1228.6L281.1 1228.6M263.6 1211.6L263.6 1245.6" stroke="#FF0000" stroke-width="5" fill="none"/>
<path d="M247.2 1225.3L281.2 1225.3M263.7 1208.3L263.7 1242.3" stroke="#FF0000" stroke-width="5" fill="none"/>
<path d="M247.3 1222L281.3 1222M263.8 1205L263.8 1239" stroke="#FF0000" stroke-width="5" fill="none"/>
<path d="M247.4 1218.5L281.4 1218.5M263.9 1201.5L263.9 1235.5" stroke="#FF0000" stroke-width="5" fill="none"/>
<path d="M247.5 1212.3L281.5 1212.3M264 1195.3L264 1229.3" stroke="#FF0000" stroke-width="5" fill="none"/>
<path d="M247.7 1204.6L281.7 1204.6M264.2 1187.6L264.2 1221.6" stroke="#FF0000" stroke-width="5" fill="none"/>
<path d="M247.9 1191.6L281.9 1191.6M264.4 1174.6L264.4 1208.6" stroke="#FF0000" stroke-width="5" fill="none"/>
<path d="M248.3 1172.5L282.3 1172.5M264.8 1155.5L264.8 1189.5" stroke="#FF0000" stroke-width="5" fill="none"/>
<path d="M248.5 1144L282.5 1144M265 1127L265 1161" stroke="#FF0000" stroke-width="5" fill="none"/>
<path d="M248.9 1101.3L282.9 1101.3M265.4 1084.3L265.4 1118.3" stroke="#FF0000" stroke-width="5" fill="none"/>
<path d="M249.1 1077.7L283.1 1077.7M265.6 1060.7L265.6 1094.7" stroke="#FF0000" stroke-width="5" fill="none"/>
<path d="M249.3 1055.7L283.3 1055.7M265.8 1038.7L265.8 1072.7" stroke="#FF0000" stroke-width="5" fill="none"/>
<path d="M249.5 1032L283.5 1032M266 1015L266 1049" stroke="#FF0000" stroke-width="5" fill="none"/>
<path d="M249.7 1011L283.7 1011M266.2 994L266.2 1028" stroke="#FF0000" stroke-width="5" fill="none"/>
<path d="M249.8 988.2L283.8 988.2M266.3 971.2L266.3 1005.2" stroke="#FF0000" stroke-width="5" fill="none"/>
<path d="M249.9 966.1L283.9 966.1M266.4 949.1L266.4 983.1" stroke="#FF0000" stroke-width="5" fill="none"/>
<path d="M250 944L284 944M266.5 927L266.5 961" stroke="#FF0000" stroke-width="5" fill="none"/>
<path d="M250.1 921.2L284.1 921.2M266.6 904.2L266.6 938.2" stroke="#FF0000" stroke-width="5" fill="none"/>
<path d="M250.2 899.1L284.2 899.1M266.7 882.1L266.7 916.1" stroke="#FF0000" stroke-width="5" fill="none"/>
<path d="M250.3 875.6L284.3 875.6M266.8 858.6L266.8 892.6" stroke="#FF0000" stroke-width="5" fill="none"/>
<path d="M250.4 853.5L284.4 853.5M266.9 836.5L266.9 870.5" stroke="#FF0000" stroke-width="5" fill="none"/>
<path d="M250.5 831.7L284.5 831.7M267 814.7L267 848.7" stroke="#FF0000" stroke-width="5" fill="none"/>
<path d="M250.7 809.1L284.7 809.1M267.2 792.1L267.2 826.1" stroke="#FF0000" stroke-width="5" fill="none"/>
<path d="M251.1 786.4L285.1 786.4M267.6 769.4L267.6 803.4" stroke="#FF0000" stroke-width="5" fill="none"/>
<path d="M251.5 763.8L285.5 763.8M268 746.8L268 780.8" stroke="#FF0000" stroke-width="5" fill="none"/>
<path d="M252.3 742L286.3 742M268.8 725L268.8 759" stroke="#FF0000" stroke-width="5" fill="none"/>
<path d="M253.6 714.5L287.6 714.5M270.1 697.5L270.1 731.5" stroke="#FF0000" stroke-width="5" fill="none"/>
<path d="M255.5 686.6L289.5 686.6M272 669.6L272 703.6" stroke="#FF0000" stroke-width="5" fill="none"/>
<path d="M256.8 659.1L290.8 659.1M273.3 642.1L273.3 676.1" stroke="#FF0000" stroke-width="5" fill="none"/>
<path d="M258.1 632L292.1 632M274.6 615L274.6 649" stroke="#FF0000" stroke-width="5" fill="none"/>
<path d="M259.5 604L293.5 604M276 587L276 621" stroke="#FF0000" stroke-width="5" fill="none"/>
<path d="M261.6 573.7L295.6 573.7M278.1 556.7L278.1 590.7" stroke="#FF0000" stroke-width="5" fill="none"/>
<path d="M264.3 543.1L298.3 543.1M280.8 526.1L280.8 560.1" stroke="#FF0000" stroke-width="5" fill="none"/>
<path d="M267.5 512.5L301.5 512.5M284 495.5L284 529.5" stroke="#FF0000" stroke-width="5" fill="none"/>
<path d="M271.5 480.5L305.5 480.5M288 463.5L288 497.5" stroke="#FF0000" stroke-width="5" fill="none"/>
<path d="M276.2 447.2L310.2 447.2M292.7 430.2L292.7 464.2" stroke="#FF0000" stroke-width="5" fill="none"/>
<path d="M282.6 414.7L316.6 414.7M299.1 397.7L299.1 431.7" stroke="#FF0000" stroke-width="5" fill="none"/>
<path d="M287.4 388.1L321.4 388.1M303.9 371.1L303.9 405.1" stroke="#FF0000" stroke-width="5" fill="none"/>
<path d="M292.2 365.2L326.2 365.2M308.7 348.2L308.7 382.2" stroke="#FF0000" stroke-width="5" fill="none"/>
<path d="M299.4 342.8L333.4 342.8M315.9 325.8L315.9 359.8" stroke="#FF0000" stroke-width="5" fill="none"/>
<path d="M304.7 329.6L338.7 329.6M321.2 312.6L321.2 346.6" stroke="#FF0000" stroke-width="5" fill="none"/>
<path d="M311.4 315.2L345.4 315.2M327.9 298.2L327.9 332.2" stroke="#FF0000" stroke-width="5" fill="none"/>
<path d="M318.6 300.3L352.6 300.3M335.1 283.3L335.1 317.3" stroke="#FF0000" stroke-width="5" fill="none"/>
<path d="M325.5 285.9L359.5 285.9M342 268.9L342 302.9" stroke="#FF0000" stroke-width="5" fill="none"/>
<path d="M334.8 271.8L368.8 271.8M351.3 254.8L351.3 288.8" stroke="#FF0000" stroke-width="5" fill="none"/>
<path d="M343.4 261.1L377.4 261.1M359.9 244.1L359.9 278.1" stroke="#FF0000" stroke-width="5" fill="none"/>
<path d="M352.7 249.4L386.7 249.4M369.2 232.4L369.2 266.4" stroke="#FF0000" stroke-width="5" fill="none"/>
<path d="M362 239.8L396 239.8M378.5 222.8L378.5 256.8" stroke="#FF0000" stroke-width="5" fill="none"/>
<path d="M375.9 229.7L409.9 229.7M392.4 212.7L392.4 246.7" stroke="#FF0000" stroke-width="5" fill="none"/>
<path d="M387.9 219.9L421.9 219.9M404.4 202.9L404.4 236.9" stroke="#FF0000" stroke-width="5" fill="none"/>
<path d="M400.9 211.1L434.9 211.1M417.4 194.1L417.4 228.1" stroke="#FF0000" stroke-width="5" fill="none"/>
<path d="M416.9 201.7L450.9 201.7M433.4 184.7L433.4 218.7" stroke="#FF0000" stroke-width="5" fill="none"/>
<path d="M434.7 192.9L468.7 192.9M451.2 175.9L451.2 209.9" stroke="#FF0000" stroke-width="5" fill="none"/>
<path d="M454.7 182.8L488.7 182.8M471.2 165.8L471.2 199.8" stroke="#FF0000" stroke-width="5" fill="none"/>
<path d="M476.6 173.8L510.6 173.8M493.1 156.8L493.1 190.8" stroke="#FF0000" stroke-width="5" fill="none"/>
<path d="M501.9 164.7L535.9 164.7M518.4 147.7L518.4 181.7" stroke="#FF0000" stroke-width="5" fill="none"/>
<path d="M528.8 155.7L562.8 155.7M545.3 138.7L545.3 172.7" stroke="#FF0000" stroke-width="5" fill="none"/>
<path d="M558.3 145.8L592.3 145.8M574.8 128.8L574.8 162.8" stroke="#FF0000" stroke-width="5" fill="none"/>
<path d="M591.9 136.7L625.9 136.7M608.4 119.7L608.4 153.7" stroke="#FF0000" stroke-width="5" fill="none"/>
<path d="M627.9 128L661.9 128M644.4 111L644.4 145" stroke="#FF0000" stroke-width="5" fill="none"/>
<path d="M667.8 118.9L701.8 118.9M684.3 101.9L684.3 135.9" stroke="#FF0000" stroke-width="5" fill="none"/>
</g>
<rect x="1184.5" y="334.5" width="564" height="581" fill="#fff" stroke="#000" stroke-width="3" shape-rendering="crispEdges"/>
<path d="M1211.5 376.5H1372.5" stroke="#000080" stroke-width="9.4" stroke-linecap="round" fill="none" shape-rendering="crispEdges"/>
<g shape-rendering="crispEdges"><path d="M1290 357.2L1293 357.2L1310.3 374.5L1310.3 377.5L1293 394.8L1290 394.8L1272.7 377.5L1272.7 374.5Z" fill="#000080"/></g>
<path d="M1211.5 459.4H1372.5" stroke="#FF00FF" stroke-width="9.4" stroke-linecap="round" fill="none" shape-rendering="crispEdges"/>
<g shape-rendering="crispEdges"><rect x="1272" y="439.9" width="39" height="38" fill="#FF00FF"/></g>
<path d="M1211.5 542.3H1372.5" stroke="#FFFF00" stroke-width="9.4" stroke-linecap="round" fill="none" shape-rendering="crispEdges"/>
<g shape-rendering="crispEdges"><path d="M1291.5 525.6L1307.3 558L1275.7 558Z" fill="#FFFF00" stroke="#FFFF00" stroke-width="5.6" stroke-linejoin="round"/></g>
<path d="M1211.5 625.2H1372.5" stroke="#00FFFF" stroke-width="9.4" stroke-linecap="round" fill="none" shape-rendering="crispEdges"/>
<g shape-rendering="crispEdges"><path d="M1274.8 608L1308.2 641.4M1274.8 641.4L1308.2 608" stroke="#00FFFF" stroke-width="5.5" fill="none"/></g>
<path d="M1211.5 708.1H1372.5" stroke="#800080" stroke-width="9.4" stroke-linecap="round" fill="none" shape-rendering="crispEdges"/>
<g shape-rendering="crispEdges"><path d="M1274.8 690.9L1308.2 724.3M1274.8 724.3L1308.2 690.9M1291.5 690.6L1291.5 724.6" stroke="#800080" stroke-width="5.5" fill="none"/></g>
<path d="M1211.5 791H1372.5" stroke="#800000" stroke-width="9.4" stroke-linecap="round" fill="none" shape-rendering="crispEdges"/>
<g shape-rendering="crispEdges"><ellipse cx="1291.5" cy="790.8" rx="19.2" ry="19.6" fill="#800000"/></g>
<path d="M1211.5 873.9H1372.5" stroke="#FF0000" stroke-width="9.4" stroke-linecap="round" fill="none" shape-rendering="crispEdges"/>
<g shape-rendering="crispEdges"><path d="M1275 873.4L1309 873.4M1291.5 856.4L1291.5 890.4" stroke="#FF0000" stroke-width="5" fill="none"/></g>
<g filter="url(#hard)">
<text x="1388" y="400">AE = 0%</text>
<text x="1388" y="482.9">AE = 10 %</text>
<text x="1388" y="565.8">AE= 20 %</text>
<text x="1388" y="648.7">AE = 30 %</text>
<text x="1388" y="731.6">AE = 40 %</text>
<text x="1388" y="814.5">AE = 50 %</text>
<text x="1388" y="897.4">AE = 60 %</text>
<text x="199" y="1252" text-anchor="end">1</text>
<text x="199" y="1084.9" text-anchor="end">1.2</text>
<text x="199" y="917.7" text-anchor="end">1.4</text>
<text x="199" y="750.6" text-anchor="end">1.6</text>
<text x="199" y="583.4" text-anchor="end">1.8</text>
<text x="199" y="416.3" text-anchor="end">2</text>
<text x="199" y="249.1" text-anchor="end">2.2</text>
<text x="199" y="82" text-anchor="end">2.4</text>
<text x="262.5" y="1340" text-anchor="middle">0</text>
<text x="568.9" y="1340" text-anchor="middle">0.05</text>
<text x="875.3" y="1340" text-anchor="middle">0.1</text>
<text x="1181.7" y="1340" text-anchor="middle">0.15</text>
<text x="1488.1" y="1340" text-anchor="middle">0.2</text>
<text x="1794.5" y="1340" text-anchor="middle">0.25</text>
<text class="b" x="760.8" y="1431.5" letter-spacing="-0.35">Total Displacement, m</text>
<text class="b" transform="translate(76.5 1047) rotate(-90)">Factor of Saftey, FS</text>
</g>
</svg></body></html>
